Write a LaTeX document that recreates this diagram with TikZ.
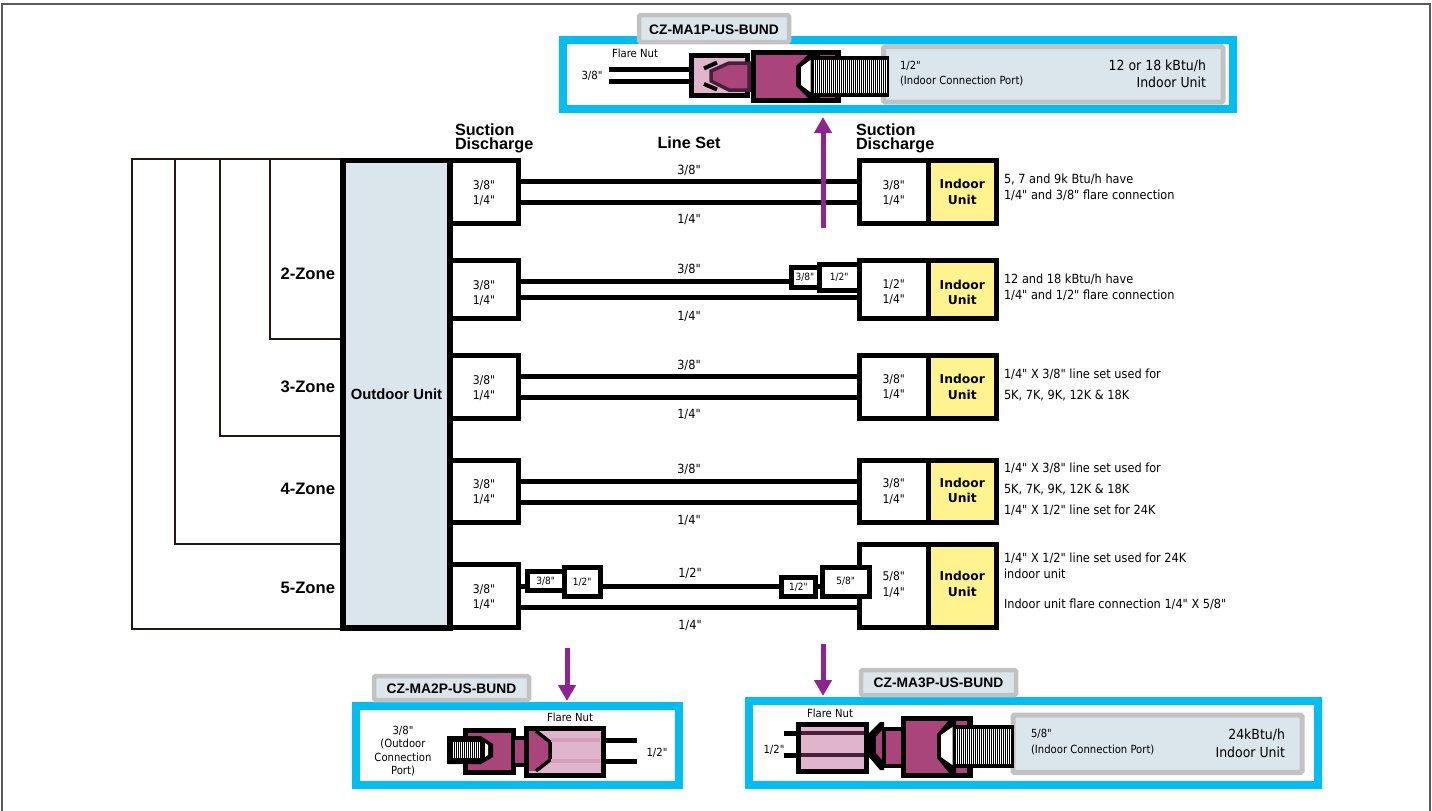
\documentclass[tikz,border=0pt]{standalone}
\usepackage{fontspec}
\newfontfamily\tah{DejaVu Sans Condensed}
\newfontfamily\vrd{DejaVu Sans}
\newfontfamily\hel{Liberation Sans}
\usetikzlibrary{arrows.meta,calc}
\definecolor{cyanb}{HTML}{00BDF2}
\definecolor{paleb}{HTML}{DBE6EC}
\definecolor{grayb}{HTML}{C2C2C2}
\definecolor{yell}{HTML}{FFF38F}
\definecolor{magf}{HTML}{A9457A}
\definecolor{pinkf}{HTML}{E0B5CC}
\definecolor{darkp}{HTML}{46203A}
\definecolor{purp}{HTML}{8E2490}
\definecolor{zonel}{HTML}{231815}
\newcommand{\pbox}[7]{\node[#1,minimum width={(#5-#3)*1pt},minimum height={(#6-#4)*1pt}] (#2) at ({(#3+#5)/2},{(#4+#6)/2}) {#7};}
% box and its text, the text centred on height #8
\newcommand{\pboxt}[8]{\node[#1,minimum width={(#5-#3)*1pt},minimum height={(#6-#4)*1pt}] (#2) at ({(#3+#5)/2},{(#4+#6)/2}) {};
 \node[#1,draw=none,fill=none,rounded corners=0pt] (#2t) at ({(#3+#5)/2},#8) {#7};}
\tikzset{
 base/.style={inner sep=0pt,outer sep=0pt,align=center,font=\tah\fontsize{12}{15.5}\selectfont},
 portbox/.style={base,draw=black,line width=5pt,fill=white},
 smallbox/.style={base,draw=black,line width=5pt,fill=white,font=\tah\fontsize{10}{12}\selectfont},
 unitbox/.style={base,draw=black,line width=5pt,fill=yell,font=\vrd\fontsize{12.3}{15.5}\selectfont\bfseries},
 outdoor/.style={base,draw=black,line width=5.5pt,fill=paleb,font=\hel\fontsize{14.8}{16}\selectfont\bfseries},
 pipe/.style={line width=5pt,draw=black},
 zoneline/.style={line width=2pt,draw=zonel},
 txt/.style={inner sep=0pt,outer sep=0pt,yshift=-0.2pt,font=\tah\fontsize{12.6}{15}\selectfont},
 small/.style={txt,font=\tah\fontsize{11.2}{13.5}\selectfont},
 big/.style={txt,font=\tah\fontsize{13.9}{15}\selectfont},
 head/.style={inner sep=0pt,outer sep=0pt,font=\hel\fontsize{16.2}{14}\selectfont\bfseries},
 zone/.style={inner sep=0pt,outer sep=0pt,anchor=east,yshift=-1pt,font=\hel\fontsize{16.6}{16}\selectfont\bfseries},
 bundleframe/.style={draw=cyanb,line width=8pt,fill=white},
 tagbox/.style={base,draw=grayb,line width=4.5pt,fill=paleb,rounded corners=1.5pt,font=\hel\fontsize{13.8}{15}\selectfont\bfseries},
 panel/.style={draw=grayb,line width=5pt,fill=paleb,rounded corners=1.5pt},
 flow/.style={draw=purp,line width=5pt,-{Triangle[length=16pt,width=17pt]}},
 nut/.style={draw=black,line width=5pt,fill=pinkf},
 body/.style={draw=black,line width=5.5pt,fill=magf},
 cone/.style={draw=darkp,line width=3.5pt,fill=magf},
 barb/.style={draw=black,line width=4pt},
 innerpipe/.style={draw=darkp,line width=4.5pt},
}
\newcommand{\thread}[4]{\fill[black] (#1,#2) rectangle (#3,#4);
 \foreach \tx in {0,1,...,45}{\pgfmathsetmacro{\xx}{#1+3+\tx*2}\pgfmathparse{\xx<(#3-2)?1:0}\ifnum\pgfmathresult=1 \draw[white,line width=1pt] (\xx,#2+4) -- (\xx,#4-4);\fi}}
\begin{document}
\begin{tikzpicture}[x=1pt,y=-1pt]
\useasboundingbox (0,0) rectangle (1432,811);
\fill[white] (0,0) rectangle (1432,811);
\draw[line width=1.3pt,draw=black!65] (2,811) -- (2,4) -- (1430,4) -- (1430,811);
% zone outlines
\draw[zoneline] (343,159) -- (132,159) -- (132,629) -- (343,629);
\draw[zoneline] (175,159) -- (175,543.5) -- (343,543.5);
\draw[zoneline] (220,159) -- (220,436) -- (343,436);
\draw[zoneline] (269.5,159) -- (269.5,338.5) -- (343,338.5);
% outdoor unit
\pbox{outdoor}{out}{343}{160.5}{450}{628}{Outdoor Unit}
% ports
\pboxt{portbox}{L1}{450}{160.5}{518}{223}{3/8"\\1/4"}{193}
\pboxt{portbox}{L2}{450}{260}{518}{318}{3/8"\\1/4"}{293}
\pboxt{portbox}{L3}{450}{355.5}{518}{418}{3/8"\\1/4"}{388}
\pboxt{portbox}{L4}{450}{460.5}{518}{522}{3/8"\\1/4"}{492}
\pboxt{portbox}{L5}{450}{564.5}{518}{627.5}{3/8"\\1/4"}{597}
\pboxt{portbox}{R1}{859.5}{160.5}{928}{223}{3/8"\\1/4"}{193}
\pboxt{portbox}{R2}{859.5}{260}{928}{318}{1/2"\\1/4"}{292}
\pboxt{portbox}{R3}{859.5}{355.5}{928}{418}{3/8"\\1/4"}{387}
\pboxt{portbox}{R4}{859.5}{460.5}{928}{522}{3/8"\\1/4"}{491.5}
\pboxt{portbox}{R5}{859.5}{544}{928}{627.5}{5/8"\\1/4"}{584.5}
\pboxt{unitbox}{U1}{928}{160.5}{996.5}{223}{Indoor\\Unit}{192}
\pboxt{unitbox}{U2}{928}{260}{996.5}{318}{Indoor\\Unit}{292.5}
\pboxt{unitbox}{U3}{928}{355.5}{996.5}{418}{Indoor\\Unit}{387}
\pboxt{unitbox}{U4}{928}{460.5}{996.5}{522}{Indoor\\Unit}{490.5}
\pboxt{unitbox}{U5}{928}{544}{996.5}{627.5}{Indoor\\Unit}{584}
% adapters
\pbox{smallbox}{a2}{791}{267.5}{819}{287}{3/8"}
\pbox{smallbox}{b2}{819}{264.5}{859.5}{290}{1/2"}
\pbox{smallbox}{a5}{527.5}{571.5}{564}{590.5}{3/8"}
\pbox{smallbox}{b5}{564}{567}{600.5}{596.5}{1/2"}
\pbox{smallbox}{c5}{781.5}{577.5}{815.5}{596.5}{1/2"}
\pbox{smallbox}{d5}{822.5}{567}{869}{596}{5/8"}
% line sets
\draw[pipe] (L1.east |- 0,181) -- (R1.west |- 0,181);
\draw[pipe] (L1.east |- 0,202) -- (R1.west |- 0,202);
\draw[pipe] (L2.east |- 0,281) -- (a2.west |- 0,281);
\draw[pipe] (L2.east |- 0,297) -- (R2.west |- 0,297);
\draw[pipe] (L3.east |- 0,376) -- (R3.west |- 0,376);
\draw[pipe] (L3.east |- 0,397) -- (R3.west |- 0,397);
\draw[pipe] (L4.east |- 0,481) -- (R4.west |- 0,481);
\draw[pipe] (L4.east |- 0,502) -- (R4.west |- 0,502);
\draw[pipe] (L5.east |- 0,586) -- (a5.west |- 0,586);
\draw[pipe] (b5.east |- 0,586) -- (c5.west |- 0,586);
\draw[pipe] (c5.east |- 0,586) -- (d5.west |- 0,586);
\draw[pipe] (L5.east |- 0,607) -- (R5.west |- 0,607);
% line labels
\node[txt] (t1) at (689,170) {3/8"};
\node[txt] (t2) at (689,219) {1/4"};
\node[txt] (t3) at (689,269) {3/8"};
\node[txt] (t4) at (689,316) {1/4"};
\node[txt] (t5) at (689,365) {3/8"};
\node[txt] (t6) at (689,414) {1/4"};
\node[txt] (t7) at (689,469) {3/8"};
\node[txt] (t8) at (689,520) {1/4"};
\node[txt] (t9) at (690,573) {1/2"};
\node[txt] (t10) at (690,625) {1/4"};
% headings
\node[head,anchor=west] (h1) at (455,130) {Suction};
\node[head,anchor=west] (h2) at (455,145) {Discharge};
\node[head] (h3) at (689,143) {Line Set};
\node[head,anchor=west] (h4) at (856,130) {Suction};
\node[head,anchor=west] (h5) at (856,145) {Discharge};
% zones
\node[zone] (z2) at (335,273) {2-Zone};
\node[zone] (z3) at (335,386) {3-Zone};
\node[zone] (z4) at (335,488) {4-Zone};
\node[zone] (z5) at (335,587) {5-Zone};
% notes
\node[txt,anchor=west] (n1) at (1004,179) {5, 7 and 9k Btu/h have};
\node[txt,anchor=west] (n2) at (1004,195) {1/4" and 3/8" flare connection};
\node[txt,anchor=west] (n3) at (1004,279) {12 and 18 kBtu/h have};
\node[txt,anchor=west] (n4) at (1004,295) {1/4" and 1/2" flare connection};
\node[txt,anchor=west] (n5) at (1004,374) {1/4" X 3/8" line set used for};
\node[txt,anchor=west] (n6) at (1004,395) {5K, 7K, 9K, 12K \& 18K};
\node[txt,anchor=west] (n7) at (1004,468) {1/4" X 3/8" line set used for};
\node[txt,anchor=west] (n8) at (1004,489) {5K, 7K, 9K, 12K \& 18K};
\node[txt,anchor=west] (n9) at (1004,510) {1/4" X 1/2" line set for 24K};
\node[txt,anchor=west] (n10) at (1004,558) {1/4" X 1/2" line set used for 24K};
\node[txt,anchor=west] (n11) at (1004,574) {indoor unit};
\node[txt,anchor=west] (n12) at (1004,604) {Indoor unit flare connection 1/4" X 5/8"};
% ---- bundle 1
\draw[bundleframe] (563,39.5) rectangle (1233,109);
\pboxt{tagbox}{tag1}{639}{15}{789}{42}{CZ-MA1P-US-BUND}{29.5}
\draw[panel] (883.5,46.5) rectangle (1223,102);
\draw[pipe] (609,69) -- (690,69);
\draw[pipe] (609,81.5) -- (690,81.5);
\draw[nut] (691.5,55.5) rectangle (747,95.5);
\draw[cone] (749,63) -- (729,63) -- (711,71) -- (711,81) -- (729,90) -- (749,90) -- cycle;
\draw[barb] (704,68.5) -- (717,62.5);
\draw[barb] (704,84) -- (717,89.5);
\draw[body] (753.5,52.5) rectangle (838,100.5);
\fill[black] (809,54) -- (796,66) -- (796,86) -- (809,99) -- (820,99) -- (820,54) -- cycle;
\thread{811}{56}{889}{97}
\fill[white] (810.5,60) -- (801,67) -- (801,85) -- (810.5,92) -- cycle;
\node[small] (f1) at (635,53) {Flare Nut};
\node[small] (s1) at (592,76) {3/8"};
\node[small,anchor=west] (p1) at (900,66) {1/2"};
\node[small,anchor=west] (p2) at (900,81) {(Indoor Connection Port)};
\node[big,anchor=east] (u1) at (1206,66) {12 or 18 kBtu/h};
\node[big,anchor=east] (u2) at (1206,82) {Indoor Unit};
\coordinate (arrTop) at (823,228);
\coordinate (arrTopEnd) at (823,117);
\draw[flow] (arrTop) -- (arrTopEnd);
% ---- bundle 2
\draw[bundleframe] (356,706) rectangle (679,784.5);
\pboxt{tagbox}{tag2}{374}{676}{529}{700}{CZ-MA2P-US-BUND}{689}
\draw[pipe] (603,740) -- (637,740);
\draw[pipe] (603,761) -- (637,761);
\draw[body,line width=5pt] (465.5,730) rectangle (513,772);
\draw[body,line width=4pt] (513,738) rectangle (527,765);
\draw[nut] (526.5,728.5) rectangle (603,775);
\draw[draw=none,fill=magf] (529,731) -- (537,731) -- (550,742) -- (550,760) -- (537,771) -- (529,771) -- cycle;
\draw[draw=black,line width=3.5pt] (536,731) -- (550,742) -- (550,760) -- (536,771);
\draw[draw=pinkf!80!magf,line width=3.5pt] (551,740) -- (600,740);
\draw[draw=pinkf!80!magf,line width=3.5pt] (551,761) -- (600,761);
\fill[black] (447,736) -- (481,736) -- (493,744) -- (493,757) -- (481,764) -- (447,764) -- cycle;
\thread{450}{738}{483}{762}
\fill[white] (485,743) -- (488,745) -- (488,755) -- (485,757) -- cycle;
\node[small] (f2) at (570,717) {Flare Nut};
\node[small,align=center] (s2) at (403,751) {3/8"\\(Outdoor\\Connection\\Port)};
\node[small] (s2b) at (657,753) {1/2"};
\coordinate (arrL) at (567,648);
\coordinate (arrLEnd) at (567,701);
\draw[flow] (arrL) -- (arrLEnd);
% ---- bundle 3
\draw[bundleframe] (748.5,701) rectangle (1318,784.5);
\pboxt{tagbox}{tag3}{861}{670}{1016}{695}{CZ-MA3P-US-BUND}{683}
\draw[panel] (1013,715) rectangle (1302,772.5);
\draw[pipe] (784,733) -- (798,733);
\draw[pipe] (784,755) -- (798,755);
\draw[nut] (798.5,724.5) rectangle (866.5,771.5);
\draw[innerpipe] (801,733) -- (864,733);
\draw[innerpipe] (801,755) -- (864,755);
\fill[black] (869,733) -- (880,722) -- (884,722) -- (884,770) -- (880,770) -- (869,757) -- cycle;
\fill[magf] (876,737) -- (882,730) -- (882,760) -- (876,753) -- cycle;
\draw[body,line width=4pt] (884,729) rectangle (903,766);
\draw[body] (903.5,718.5) rectangle (970,775.5);
\fill[black] (949,720) -- (937,734) -- (937,758) -- (949,773) -- (956,773) -- (956,720) -- cycle;
\thread{953}{725}{1014}{768}
\fill[white] (952.5,727) -- (941,735) -- (941,757) -- (952.5,765) -- cycle;
\node[small] (f3) at (830,713) {Flare Nut};
\node[small] (s3) at (774,750) {1/2"};
\node[small,anchor=west] (p3) at (1031,734) {5/8"};
\node[small,anchor=west] (p4) at (1031,750) {(Indoor Connection Port)};
\node[big,anchor=east] (u3) at (1285,735) {24kBtu/h};
\node[big,anchor=east] (u4) at (1285,752) {Indoor Unit};
\coordinate (arrR) at (823,644);
\coordinate (arrREnd) at (823,696);
\draw[flow] (arrR) -- (arrREnd);
\end{tikzpicture}
\end{document}
